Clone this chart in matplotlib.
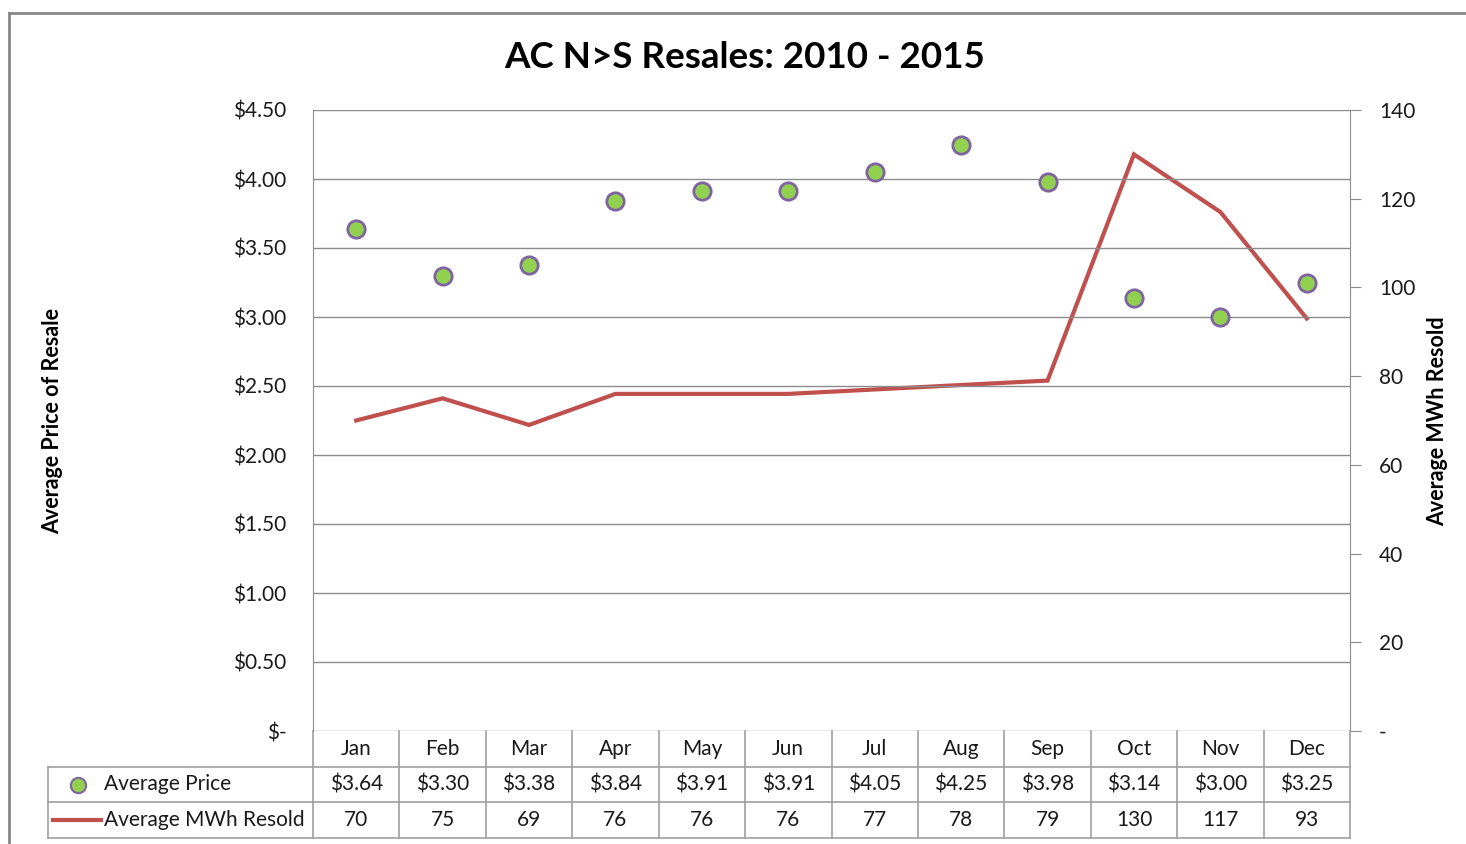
import matplotlib
matplotlib.use("Agg")
import matplotlib.pyplot as plt
from matplotlib.lines import Line2D

months = ["Jan", "Feb", "Mar", "Apr", "May", "Jun", "Jul", "Aug", "Sep", "Oct", "Nov", "Dec"]
avg_price = [3.64, 3.30, 3.38, 3.84, 3.91, 3.91, 4.05, 4.25, 3.98, 3.14, 3.00, 3.25]
avg_mwh = [70, 75, 69, 76, 76, 76, 77, 78, 79, 130, 117, 93]
price_ticks = [0, 0.5, 1.0, 1.5, 2.0, 2.5, 3.0, 3.5, 4.0, 4.5]
mwh_ticks = [0, 20, 40, 60, 80, 100, 120, 140]

FONT = "Lato"
plt.rcParams['font.family'] = [FONT, 'DejaVu Sans']
W, H = 1466, 844
fig = plt.figure(figsize=(W / 100, H / 100), dpi=100)

GRID = '#8c8c8c'
TXT = '#1a1a1a'
GREEN = '#92D050'
PURPLE = '#8064A2'
RED = '#C0504D'
TAB = '#a0a0a0'
FS = 15

x0, x1 = 313, 1350
ytop, ybot, ytab = 110, 731, 838

def fx(px):
    return px / W

def fy(py):
    return 1 - py / H

ax = fig.add_axes([fx(x0), fy(ybot), fx(x1) - fx(x0), fy(ytop) - fy(ybot)])
ax2 = ax.twinx()

x = list(range(len(months)))
ax.set_xlim(-0.5, 11.5)
ax.set_ylim(0, 4.5)
ax.set_yticks(price_ticks)
ax.set_yticklabels(["$-" if v == 0 else f"${v:.2f}" for v in price_ticks], fontsize=FS, color=TXT)
ax.tick_params(axis='y', length=0, pad=19)
ax.set_xticks([])
ax.yaxis.grid(True, color=GRID, linewidth=1)
ax.set_axisbelow(True)
for s in ['top', 'bottom', 'right']:
    ax.spines[s].set_visible(False)
ax.spines['left'].set_color(GRID)

ax2.set_ylim(0, 140)
ax2.set_yticks(mwh_ticks)
ax2.set_yticklabels(["-" if v == 0 else str(v) for v in mwh_ticks], fontsize=FS, color=TXT)
ax2.tick_params(axis='y', direction='out', length=8, color=GRID, pad=13)
for s in ['top', 'bottom', 'left']:
    ax2.spines[s].set_visible(False)
ax2.spines['right'].set_color(GRID)

ax2.plot(x, avg_mwh, color=RED, linewidth=3, zorder=2, solid_joinstyle='miter')
ax.set_zorder(ax2.get_zorder() + 1)
ax.patch.set_visible(False)
ax.plot(x, avg_price, linestyle='none', marker='o', markersize=12.5,
        markerfacecolor=GREEN, markeredgecolor=PURPLE, markeredgewidth=2, zorder=5)

fig.text(fx(745), fy(58), "AC N>S Resales: 2010 - 2015", fontsize=26.5, fontweight='bold',
         ha='center', va='center', color='black')
fig.text(fx(53), fy(421), "Average Price of Resale", rotation=90, fontsize=15.5,
         fontweight='bold', ha='center', va='center', color='black')
fig.text(fx(1438), fy(421), "Average MWh Resold", rotation=90, fontsize=15.5,
         fontweight='bold', ha='center', va='center', color='black')

# data table
tax = fig.add_axes([fx(x0), fy(ytab), fx(x1) - fx(x0), fy(ybot) - fy(ytab)])
tax.set_xlim(-0.5, 11.5)
tax.set_ylim(3, 0)
tax.axis('off')
colw = (x1 - x0) / 12.0
left_edge = -0.5 - (x0 - 48) / colw
for k in range(13):
    tax.plot([-0.5 + k, -0.5 + k], [0, 3], color=TAB, linewidth=1.2, clip_on=False)
tax.plot([left_edge, left_edge], [1, 3], color=TAB, linewidth=1.2, clip_on=False)
for r in [1, 2, 3]:
    tax.plot([left_edge, 11.5], [r, r], color=TAB, linewidth=1.2, clip_on=False)
for i, m in enumerate(months):
    tax.text(i, 0.5, m, ha='center', va='center', fontsize=FS, color=TXT)
    tax.text(i, 1.5, f"${avg_price[i]:.2f}", ha='center', va='center', fontsize=FS, color=TXT)
    tax.text(i, 2.5, str(avg_mwh[i]), ha='center', va='center', fontsize=FS, color=TXT)

lab_x = -0.5 - (x0 - 104) / colw
tax.text(lab_x, 1.5, "Average Price", ha='left', va='center', fontsize=FS, color=TXT)
tax.text(lab_x, 2.5, "Average MWh Resold", ha='left', va='center', fontsize=FS, color=TXT)
tax.plot([-0.5 - (x0 - 78) / colw], [1.5], marker='o', markersize=11, markerfacecolor=GREEN,
         markeredgecolor=PURPLE, markeredgewidth=1.5, linestyle='none', clip_on=False)
tax.plot([-0.5 - (x0 - 53) / colw, -0.5 - (x0 - 101) / colw], [2.5, 2.5], color=RED,
         linewidth=3, clip_on=False)

# outer frame
fig.add_artist(Line2D([fx(9), 1], [fy(13), fy(13)], color='#888888', linewidth=2))
fig.add_artist(Line2D([fx(9), fx(9)], [fy(13), 0], color='#888888', linewidth=2))

fig.savefig("out.png", dpi=100, facecolor='white')
